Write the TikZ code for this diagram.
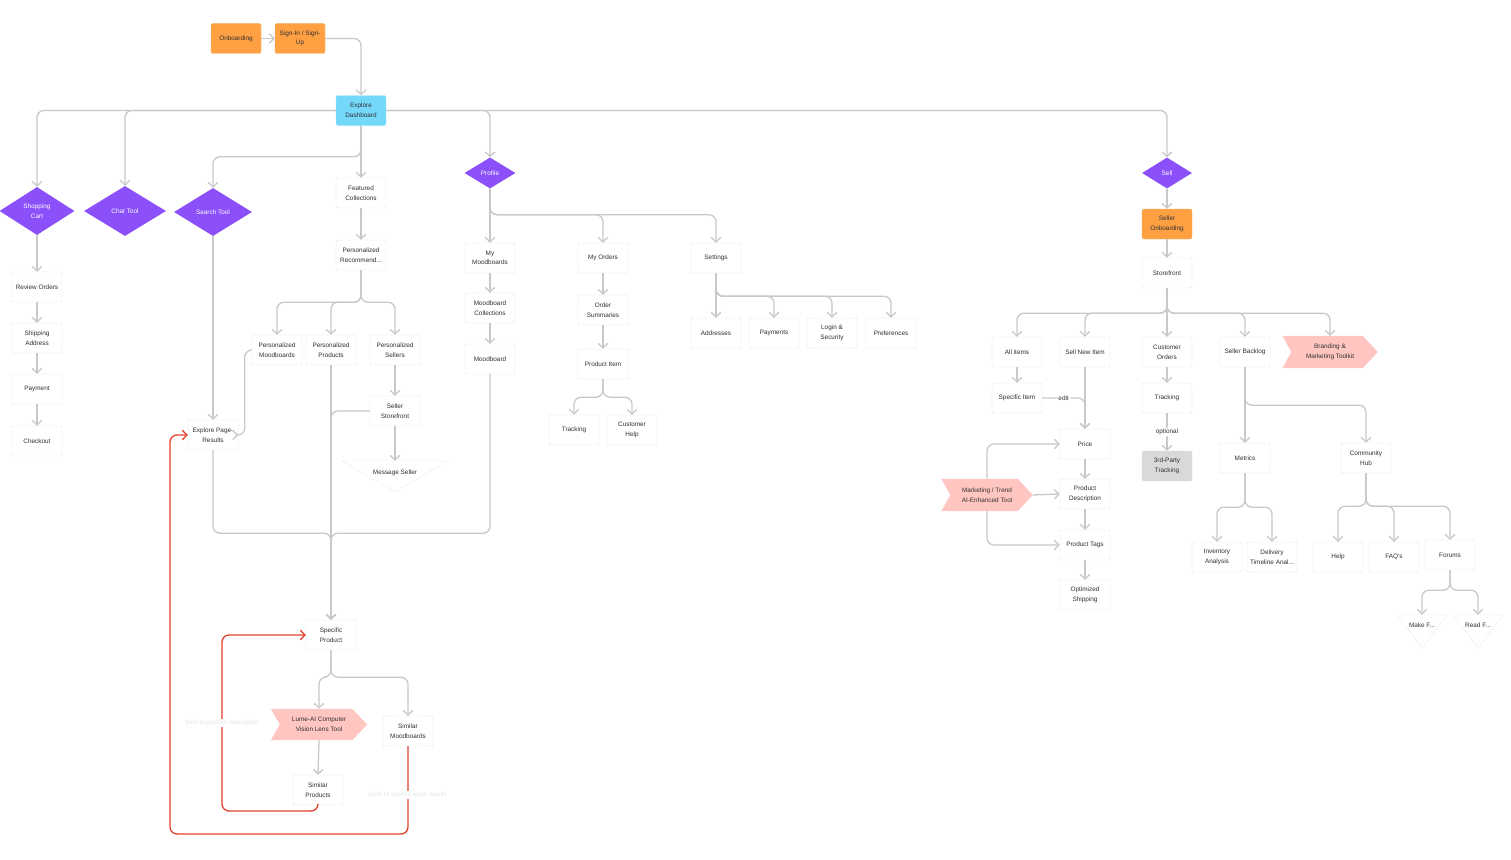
\documentclass[tikz,border=0pt]{standalone}
\usepackage{fontspec}
\setmainfont{Liberation Sans}
\usetikzlibrary{arrows.meta,shapes.geometric,calc,backgrounds}

\definecolor{linegray}{HTML}{C8C8C8}
\definecolor{boxline}{HTML}{E2E2E2}
\definecolor{txt}{HTML}{303030}
\definecolor{purp}{HTML}{8B50FA}
\definecolor{orng}{HTML}{FFA043}
\definecolor{orngline}{HTML}{F0B26A}
\definecolor{cyanb}{HTML}{74D8FA}
\definecolor{cyanline}{HTML}{9FE2FA}
\definecolor{pinkb}{HTML}{FFC6C1}
\definecolor{redl}{HTML}{E2402A}
\definecolor{grayb}{HTML}{D9D9D9}
\definecolor{faintt}{HTML}{E4E4E4}

\newcommand{\nodefont}{\fontsize{6.4}{9.6}\selectfont}
\newcommand{\smallfont}{\fontsize{6.2}{7.5}\selectfont}
% pink chevron behind a node: notched on the left, pointed on the right
\newcommand{\chevfill}[1]{%
  \fill[pinkb] (#1.north west) -- ($(#1.north east)+(-15,0)$) -- (#1.east)
    -- ($(#1.south east)+(-15,0)$) -- (#1.south west) -- ($(#1.west)+(9,0)$) -- cycle;}
% downward triangle outline under a label node
\newcommand{\trifill}[3]{%
  \draw[triline] ($(#1.north)+(-#2,0)$) -- ($(#1.north)+(#2,0)$) -- ($(#1.center)+(0,#3)$) -- cycle;}

\tikzset{
  box/.style={draw=boxline, fill=white, rounded corners=2, minimum width=50,
    minimum height=30, inner sep=1, align=center, text=txt, font=\nodefont},
  obox/.style={box, fill=orng, draw=orngline},
  cbox/.style={box, fill=cyanb, draw=cyanline},
  gbox/.style={box, fill=grayb, draw=grayb},
  dia/.style={diamond, fill=purp, text=white, inner sep=0, align=center, font=\nodefont},
  chev/.style={inner sep=0, align=center, text=txt, font=\nodefont},
  trinode/.style={inner sep=0, align=center, text=txt, font=\nodefont},
  triline/.style={draw=black!13, densely dotted, line width=0.6},
  conn/.style={draw=linegray, line width=1.3, rounded corners=7,
    -{Straight Barb[length=4.5,width=9.5]}},
  redc/.style={conn, draw=redl},
  lbl/.style={fill=white, inner sep=1.5, text=txt, font=\nodefont},
  faint/.style={fill=white, inner sep=1, text=faintt, font=\smallfont},
}

\begin{document}
\begin{tikzpicture}[x=1pt, y=-1pt]
\useasboundingbox (0,0) rectangle (1511,859);

% ---------- entry ----------
\node[obox] (onb) at (236,38.5) {Onboarding};
\node[obox] (sign) at (300,38.5) {Sign-In / Sign-\\Up};
\node[cbox] (exp) at (361,110.5) {Explore\\Dashboard};

% ---------- decision diamonds ----------
\node[dia, minimum width=75, minimum height=48] (cart) at (37,211) {Shopping\\Cart};
\node[dia, minimum width=82, minimum height=50] (chat) at (125,211) {Chat Tool};
\node[dia, minimum width=78, minimum height=48] (search) at (213,212) {Search Tool};
\node[dia, minimum width=51, minimum height=31] (prof) at (490,173) {Profile};
\node[dia, minimum width=50, minimum height=31] (sell) at (1167,173) {Sell};

% ---------- shopping cart ----------
\node[box] (rev) at (37,287) {Review Orders};
\node[box] (ship) at (37,338) {Shipping\\Address};
\node[box] (paym) at (37,389) {Payment};
\node[box] (chk) at (37,441) {Checkout};

% ---------- explore ----------
\node[box] (feat) at (361,193) {Featured\\Collections};
\node[box] (prec) at (361,255) {Personalized\\Recommend...};
\node[box] (pmb) at (277,350) {Personalized\\Moodboards};
\node[box] (ppr) at (331,350) {Personalized\\Products};
\node[box] (psel) at (395,350) {Personalized\\Sellers};
\node[box] (sst) at (395,411) {Seller\\Storefront};
\node[trinode, minimum width=106, minimum height=24] (msg) at (395,473) {Message Seller};
\trifill{msg}{53}{19}
\node[box] (epr) at (213,435) {Explore Page-\\Results};
\node[box] (sp) at (331,635) {Specific\\Product};
\node[chev, minimum width=96, minimum height=31] (lume) at (319,724.5) {Lume-AI Computer\\Vision Lens Tool};
\node[box] (simmb) at (408,731) {Similar\\Moodboards};
\node[box] (simp) at (318,790) {Similar\\Products};

% ---------- profile ----------
\node[box] (mymb) at (490,258) {My\\Moodboards};
\node[box] (mbc) at (490,308) {Moodboard\\Collections};
\node[box] (mb) at (490,359) {Moodboard};
\node[box] (myo) at (603,258) {My Orders};
\node[box] (osum) at (603,310) {Order\\Summaries};
\node[box] (pitem) at (603,364) {Product Item};
\node[box] (trk) at (574,430) {Tracking};
\node[box] (chelp) at (632,430) {Customer\\Help};
\node[box] (sett) at (716,258) {Settings};
\node[box] (addr) at (716,333) {Addresses};
\node[box] (pays) at (774,333) {Payments};
\node[box] (login) at (832,333) {Login \&\\Security};
\node[box] (pref) at (891,333) {Preferences};

% ---------- sell ----------
\node[obox] (sonb) at (1167,224) {Seller\\Onboarding};
\node[box] (store) at (1167,273) {Storefront};
\node[box] (alli) at (1017,352) {All items};
\node[box] (sni) at (1085,352) {Sell New Item};
\node[box] (cord) at (1167,352) {Customer\\Orders};
\node[box] (sback) at (1245,352) {Seller Backlog};
\node[chev, minimum width=95, minimum height=32] (brand) at (1330,352) {Branding \&\\Marketing Toolkit};
\node[box] (spi) at (1017,398) {Specific Item};
\node[box] (price) at (1085,444) {Price};
\node[box] (pdesc) at (1085,494) {Product\\Description};
\node[box] (ptag) at (1085,545) {Product Tags};
\node[box] (oship) at (1085,595) {Optimized\\Shipping};
\node[chev, minimum width=91, minimum height=32] (mkt) at (987,495) {Marketing / Trend\\AI-Enhanced Tool};
\node[box] (trk2) at (1167,398) {Tracking};
\node[gbox] (tp) at (1167,466) {3rd-Party\\Tracking};
\node[box] (met) at (1245,458) {Metrics};
\node[box] (chub) at (1366,458) {Community\\Hub};
\node[box] (inv) at (1217,557) {Inventory\\Analysis};
\node[box] (dtl) at (1272,557) {Delivery\\Timeline Anal...};
\node[box] (help) at (1338,557) {Help};
\node[box] (faq) at (1394,557) {FAQ's};
\node[box] (forum) at (1450,555) {Forums};
\node[trinode, minimum width=50, minimum height=20] (makef) at (1422,625) {Make F...};
\trifill{makef}{25}{23}
\node[trinode, minimum width=50, minimum height=20] (readf) at (1478,625) {Read F...};
\trifill{readf}{25}{23}

\begin{scope}[on background layer]
  \chevfill{lume}
  \chevfill{brand}
  \chevfill{mkt}
\end{scope}

% ---------- connectors: entry ----------
\draw[conn] (onb) -- (sign);
\draw[conn] (sign.east) -| (exp.north);
\draw[conn] (exp.west) -| (cart.north);
\draw[conn] (exp.west) -| (chat.north);
\draw[conn] (exp.east) -| (prof.north);
\draw[conn] (exp.east) -| (sell.north);
\draw[conn] (exp.south) -- (feat.north);
\draw[conn] (exp.south) -- ++(0,31) -| (search.north);

% ---------- connectors: cart ----------
\draw[conn] (cart.south) -- (rev.north);
\draw[conn] (rev.south) -- (ship.north);
\draw[conn] (ship.south) -- (paym.north);
\draw[conn] (paym.south) -- (chk.north);

% ---------- connectors: explore ----------
\draw[conn] (feat.south) -- (prec.north);
\draw[conn] (prec.south) -- ++(0,32) -| (pmb.north);
\draw[conn] (prec.south) -- ++(0,32) -| (ppr.north);
\draw[conn] (prec.south) -- ++(0,32) -| (psel.north);
\draw[conn] (psel.south) -- (sst.north);
\draw[conn] (sst.south) -- (msg.north);
\draw[conn] (search.south) -- (epr.north);
\draw[conn] (pmb.west) -- ++(-7,0) |- (epr.east);
\draw[conn] (ppr.south) -- (sp.north);
\draw[conn] (sst.west) -| (sp.north);
\draw[conn] (epr.south) -- ++(0,83) -| (sp.north);
\draw[conn] (mb.south) -- ++(0,159) -| (sp.north);
\draw[conn] (sp.south) -- ++(0,27) -| (lume.north);
\draw[conn] (sp.south) -- ++(0,27) -| (simmb.north);
\draw[conn] (lume.south) -- (simp.north);

% feedback loops
\draw[redc] (simp.south) |- (222,811) |- (sp.west);
\draw[redc] (simmb.south) |- (170,834) |- (epr.west);
\node[faint] (fbA) at (222,723) {feed to product description};
\node[faint] (fbB) at (408,795) {back to explore page results};

% ---------- connectors: profile ----------
\draw[conn] (prof.south) -- (mymb.north);
\draw[conn] (prof.south) -- ++(0,26) -| (myo.north);
\draw[conn] (prof.south) -- ++(0,26) -| (sett.north);
\draw[conn] (mymb.south) -- (mbc.north);
\draw[conn] (mbc.south) -- (mb.north);
\draw[conn] (myo.south) -- (osum.north);
\draw[conn] (osum.south) -- (pitem.north);
\draw[conn] (pitem.south) -- ++(0,18) -| (trk.north);
\draw[conn] (pitem.south) -- ++(0,18) -| (chelp.north);
\draw[conn] (sett.south) -- (addr.north);
\draw[conn] (sett.south) -- ++(0,23) -| (pays.north);
\draw[conn] (sett.south) -- ++(0,23) -| (login.north);
\draw[conn] (sett.south) -- ++(0,23) -| (pref.north);

% ---------- connectors: sell ----------
\draw[conn] (sell.south) -- (sonb.north);
\draw[conn] (sonb.south) -- (store.north);
\draw[conn] (store.south) -- ++(0,25) -| (alli.north);
\draw[conn] (store.south) -- ++(0,25) -| (sni.north);
\draw[conn] (store.south) -- (cord.north);
\draw[conn] (store.south) -- ++(0,25) -| (sback.north);
\draw[conn] (store.south) -- ++(0,25) -| (brand.north);
\draw[conn] (alli.south) -- (spi.north);
\draw[conn] (spi.east) -| node[lbl, pos=0.25] {edit} (price.north);
\draw[conn] (sni.south) -- (price.north);
\draw[conn] (price.south) -- (pdesc.north);
\draw[conn] (pdesc.south) -- (ptag.north);
\draw[conn] (ptag.south) -- (oship.north);
\draw[conn] (mkt.north) |- (price.west);
\draw[conn] (mkt.east) -- (pdesc.west);
\draw[conn] (mkt.south) |- (ptag.west);
\draw[conn] (cord.south) -- (trk2.north);
\draw[conn] (trk2.south) -- node[lbl] {optional} (tp.north);
\draw[conn] (sback.south) -- (met.north);
\draw[conn] (sback.south) -- ++(0,38) -| (chub.north);
\draw[conn] (met.south) -- ++(0,34) -| (inv.north);
\draw[conn] (met.south) -- ++(0,34) -| (dtl.north);
\draw[conn] (chub.south) -- ++(0,33) -| (help.north);
\draw[conn] (chub.south) -- ++(0,33) -| (faq.north);
\draw[conn] (chub.south) -- ++(0,33) -| (forum.north);
\draw[conn] (forum.south) -- ++(0,20) -| (makef.north);
\draw[conn] (forum.south) -- ++(0,20) -| (readf.north);
\end{tikzpicture}
\end{document}
